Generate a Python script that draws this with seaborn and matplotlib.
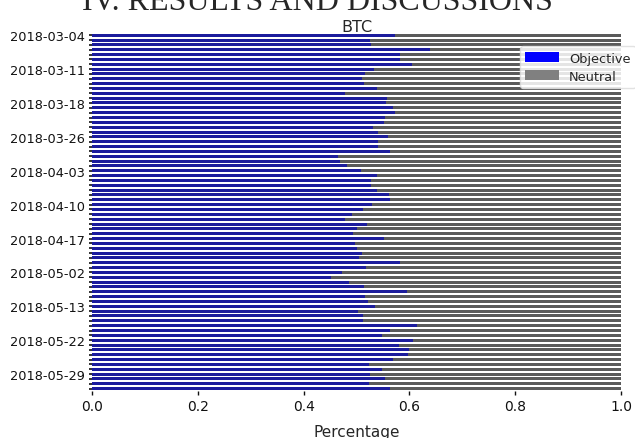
import matplotlib
matplotlib.use("Agg")
import matplotlib.pyplot as plt
import seaborn as sns
import pandas as pd
from matplotlib.patches import Patch

dates = [
    "2018-03-04", "2018-03-05", "2018-03-06", "2018-03-07", "2018-03-08", "2018-03-09", "2018-03-10",
    "2018-03-11", "2018-03-12", "2018-03-13", "2018-03-14", "2018-03-15", "2018-03-16", "2018-03-17",
    "2018-03-18", "2018-03-19", "2018-03-20", "2018-03-21", "2018-03-22", "2018-03-23", "2018-03-25",
    "2018-03-26", "2018-03-27", "2018-03-28", "2018-03-29", "2018-03-30", "2018-03-31", "2018-04-02",
    "2018-04-03", "2018-04-04", "2018-04-05", "2018-04-06", "2018-04-07", "2018-04-08", "2018-04-09",
    "2018-04-10", "2018-04-11", "2018-04-12", "2018-04-13", "2018-04-14", "2018-04-15", "2018-04-16",
    "2018-04-17", "2018-04-18", "2018-04-19", "2018-04-20", "2018-04-21", "2018-04-28", "2018-04-30",
    "2018-05-02", "2018-05-03", "2018-05-04", "2018-05-05", "2018-05-08", "2018-05-10", "2018-05-11",
    "2018-05-13", "2018-05-14", "2018-05-15", "2018-05-17", "2018-05-18", "2018-05-20", "2018-05-21",
    "2018-05-22", "2018-05-23", "2018-05-24", "2018-05-25", "2018-05-26", "2018-05-27", "2018-05-28",
    "2018-05-29", "2018-05-30", "2018-05-31", "2018-06-01",
]

objective = [
    0.573, 0.525, 0.527, 0.639, 0.583, 0.582, 0.604, 0.533, 0.516, 0.511,
    0.515, 0.538, 0.478, 0.557, 0.556, 0.569, 0.573, 0.554, 0.551, 0.532,
    0.540, 0.560, 0.541, 0.541, 0.563, 0.464, 0.469, 0.481, 0.508, 0.538,
    0.527, 0.527, 0.539, 0.562, 0.563, 0.529, 0.513, 0.491, 0.478, 0.519,
    0.500, 0.494, 0.551, 0.497, 0.500, 0.510, 0.505, 0.583, 0.518, 0.472,
    0.451, 0.486, 0.515, 0.596, 0.516, 0.522, 0.534, 0.503, 0.513, 0.512,
    0.615, 0.563, 0.548, 0.606, 0.581, 0.600, 0.598, 0.569, 0.524, 0.548,
    0.525, 0.554, 0.524, 0.563,
]

neutral = [
    0.427, 0.475, 0.473, 0.361, 0.417, 0.418, 0.396, 0.467, 0.484, 0.489,
    0.485, 0.462, 0.522, 0.443, 0.444, 0.431, 0.427, 0.446, 0.449, 0.468,
    0.460, 0.440, 0.459, 0.459, 0.437, 0.536, 0.531, 0.519, 0.492, 0.462,
    0.473, 0.473, 0.461, 0.438, 0.437, 0.471, 0.487, 0.509, 0.522, 0.481,
    0.500, 0.506, 0.449, 0.503, 0.500, 0.490, 0.495, 0.417, 0.482, 0.528,
    0.549, 0.514, 0.485, 0.404, 0.484, 0.478, 0.466, 0.497, 0.487, 0.488,
    0.385, 0.437, 0.452, 0.394, 0.419, 0.400, 0.402, 0.431, 0.476, 0.452,
    0.475, 0.446, 0.476, 0.437,
]

series_names = ["Objective", "Neutral"]
label_every = 7

df = pd.DataFrame({"date": dates, "Objective": objective, "Neutral": neutral})
df["total"] = df["Objective"] + df["Neutral"]

sns.set_style("white")
plt.rcParams["font.family"] = ["DejaVu Sans"]

fig = plt.figure(figsize=(6.35, 4.39), dpi=100)
ax = fig.add_axes([0.145, 0.107, 0.833, 0.816])

blue = "#0000ff"
grey = "#808080"

sns.barplot(data=df, x="total", y="date", orient="h", color="#5a5a5a", saturation=1,
            width=0.62, edgecolor="none", linewidth=0, ax=ax)
sns.barplot(data=df, x="Objective", y="date", orient="h", color="#1c1c9c", saturation=1,
            width=0.62, edgecolor="none", linewidth=0, ax=ax)

for s in ax.spines.values():
    s.set_visible(False)

ax.set_xlim(0, 1.0)
ax.set_xticks([0.0, 0.2, 0.4, 0.6, 0.8, 1.0])
ax.set_xticklabels(["0.0", "0.2", "0.4", "0.6", "0.8", "1.0"])
ax.set_yticks(range(len(dates)))
ax.set_yticklabels([d if i % label_every == 0 else "" for i, d in enumerate(dates)])
ax.tick_params(axis="y", left=True, length=2, width=1.2, pad=3, labelsize=9.3, colors="#111111")
ax.tick_params(axis="x", bottom=True, length=3, width=1.0, pad=3, labelsize=10, colors="#111111")
ax.set_ylabel("")
ax.set_xlabel("Percentage", fontsize=11, labelpad=8)
ax.set_title("BTC", fontsize=11.5, pad=1.5)

handles = [Patch(facecolor=blue, edgecolor="none"), Patch(facecolor=grey, edgecolor="none")]
leg = ax.legend(handles, series_names, loc="upper right", bbox_to_anchor=(1.04, 0.98),
                fontsize=9.3, frameon=True, framealpha=0.85, edgecolor="#dddddd",
                handlelength=2.6, handleheight=0.8, borderpad=0.4, labelspacing=0.4)

fig.text(0.5, 0.5, "IV. RESULTS AND DISCUSSIONS", ha="center", va="baseline",
         fontsize=23, family="Liberation Serif")
fig.texts[-1].set_transform(matplotlib.transforms.IdentityTransform())
fig.texts[-1].set_position((0.50 * 635, 439 - 10))

fig.savefig("out.png", dpi=100)
